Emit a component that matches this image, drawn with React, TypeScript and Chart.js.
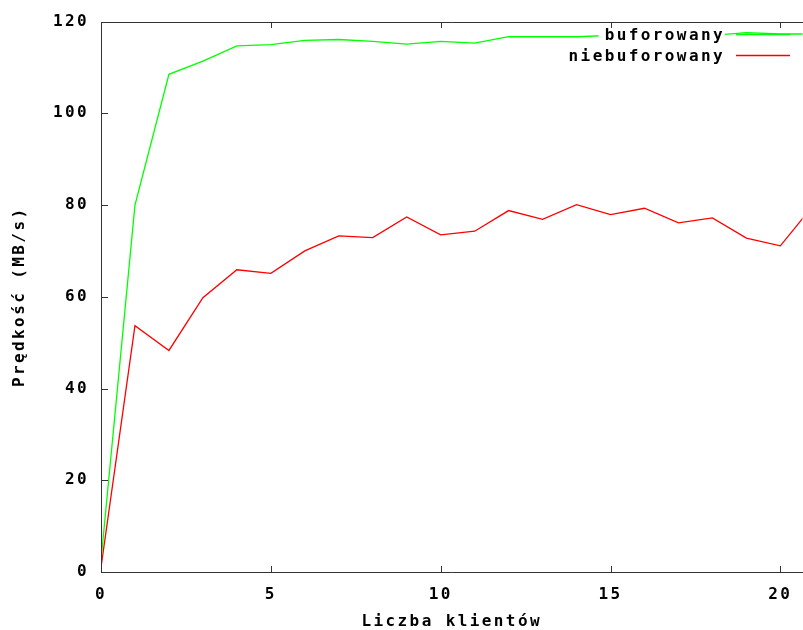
import React, { useEffect, useRef } from "react";
import { Chart, registerables } from "chart.js";

Chart.register(...registerables);

const clients = [0, 1, 2, 3, 4, 5, 6, 7, 8, 9, 10, 11, 12, 13, 14, 15, 16, 17, 18, 19, 20, 21];
const buforowany = [2.5, 80, 108.5, 111.4, 114.7, 115.0, 115.9, 116.1, 115.7, 115.1, 115.7, 115.3, 116.7, 116.7, 116.7, 117.0, 117.1, 117.0, 117.0, 117.6, 117.3, 117.3];
const niebuforowany = [1, 53.7, 48.3, 59.8, 65.9, 65.1, 70.0, 73.3, 72.9, 77.4, 73.5, 74.3, 78.8, 76.9, 80.1, 77.9, 79.3, 76.1, 77.2, 72.8, 71.1, 80.2];
const seriesLabels = ["buforowany", "niebuforowany"];
const seriesColors = ["#00ff00", "#ff0000"];
const xTicks = [0, 5, 10, 15, 20];
const yTicks = [0, 20, 40, 60, 80, 100, 120];
const xTitle = "Liczba klientów";
const yTitle = "Prędkość (MB/s)";

const FONT = "'DejaVu Sans Mono', monospace";
const WEIGHT = "bold";
const SPACING = "2.4px";
const AXIS = "#333333";

const spacingPlugin = {
  id: "spacing",
  beforeDraw(chart: any) {
    chart.ctx.letterSpacing = SPACING;
  },
};

const framePlugin = {
  id: "frame",
  afterDatasetsDraw(chart: any) {
    const { ctx, chartArea } = chart;
    const { left, top, right, bottom } = chartArea;
    const xs = chart.scales.x;
    const ys = chart.scales.y;
    ctx.save();
    ctx.strokeStyle = AXIS;
    ctx.lineWidth = 1;
    ctx.beginPath();
    ctx.moveTo(Math.round(left) + 0.5, Math.round(top) + 0.5);
    ctx.lineTo(Math.round(left) + 0.5, Math.round(bottom) + 0.5);
    ctx.lineTo(right + 5, Math.round(bottom) + 0.5);
    ctx.moveTo(Math.round(left) + 0.5, Math.round(top) + 0.5);
    ctx.lineTo(right + 5, Math.round(top) + 0.5);
    xTicks.forEach((v) => {
      const px = Math.round(xs.getPixelForValue(v)) + 0.5;
      ctx.moveTo(px, Math.round(bottom) + 0.5);
      ctx.lineTo(px, Math.round(bottom) - 6);
      ctx.moveTo(px, Math.round(top) + 0.5);
      ctx.lineTo(px, Math.round(top) + 6);
    });
    yTicks.forEach((v) => {
      const py = Math.round(ys.getPixelForValue(v)) + 0.5;
      ctx.moveTo(Math.round(left), py);
      ctx.lineTo(Math.round(left) + 7, py);
    });
    ctx.stroke();
    ctx.restore();
  },
};

const legendPlugin = {
  id: "gnuLegend",
  afterDatasetsDraw(chart: any) {
    const { ctx } = chart;
    ctx.save();
    ctx.letterSpacing = SPACING;
    ctx.font = `${WEIGHT} 16px ${FONT}`;
    ctx.textAlign = "right";
    ctx.textBaseline = "middle";
    chart.data.datasets.forEach((ds: any, i: number) => {
      const y = 36 + i * 21;
      const w = ctx.measureText(ds.label).width;
      ctx.fillStyle = "#ffffff";
      ctx.fillRect(725 - w - 6, y - 8, w + 6, 16);
      ctx.fillStyle = "#000000";
      ctx.fillText(ds.label, 725, y);
      ctx.strokeStyle = ds.borderColor;
      ctx.lineWidth = 1.3;
      ctx.beginPath();
      ctx.moveTo(736, y - 1.5);
      ctx.lineTo(790, y - 1.5);
      ctx.stroke();
    });
    ctx.restore();
  },
};

export default function App() {
  const ref = useRef<HTMLCanvasElement>(null);
  useEffect(() => {
    if (!ref.current) return;
    const datasets = [buforowany, niebuforowany].map((vals, i) => ({
      label: seriesLabels[i],
      data: clients.map((x, j) => ({ x, y: vals[j] })),
      borderColor: seriesColors[i],
      backgroundColor: seriesColors[i],
      borderWidth: 1.3,
      pointRadius: 0,
      tension: 0,
      fill: false,
    }));
    const font = { family: FONT, size: 16, weight: WEIGHT };
    const chart = new Chart(ref.current, {
      type: "line",
      data: { datasets },
      options: {
        animation: false,
        responsive: false,
        layout: { padding: { top: 20, right: 0, left: 0, bottom: 0 } },
        plugins: { legend: { display: false }, tooltip: { enabled: false } },
        scales: {
          x: {
            type: "linear",
            min: 0,
            max: 20.65,
            afterBuildTicks: (s: any) => {
              s.ticks = xTicks.map((v) => ({ value: v }));
            },
            afterFit: (s: any) => {
              s.height = 58;
            },
            grid: { display: false, drawTicks: false },
            border: { display: false },
            ticks: {
              padding: 13,
              color: "#000",
              font,
              maxRotation: 0,
              autoSkip: false,
            },
            title: {
              display: true,
              text: xTitle,
              color: "#000",
              font: { ...font, lineHeight: 1 },
              padding: { top: 0, bottom: 0 },
            },
          },
          y: {
            type: "linear",
            min: 0,
            max: 120,
            afterBuildTicks: (s: any) => {
              s.ticks = yTicks.map((v) => ({ value: v }));
            },
            afterFit: (s: any) => {
              s.width = 101;
            },
            grid: { display: false, drawTicks: false },
            border: { display: false },
            ticks: {
              padding: 12,
              color: "#000",
              font,
            },
            title: {
              display: true,
              text: yTitle,
              color: "#000",
              font: { ...font, lineHeight: 1 },
              padding: { top: 12, bottom: 0 },
            },
          },
        },
      },
      plugins: [spacingPlugin, framePlugin, legendPlugin],
    } as any);
    return () => chart.destroy();
  }, []);
  return (
    <div style={{ position: "absolute", left: 0, top: 0, width: 803, height: 630, overflow: "hidden", background: "#fff" }}>
      <canvas ref={ref} width={803} height={630} style={{ display: "block" }} />
    </div>
  );
}
